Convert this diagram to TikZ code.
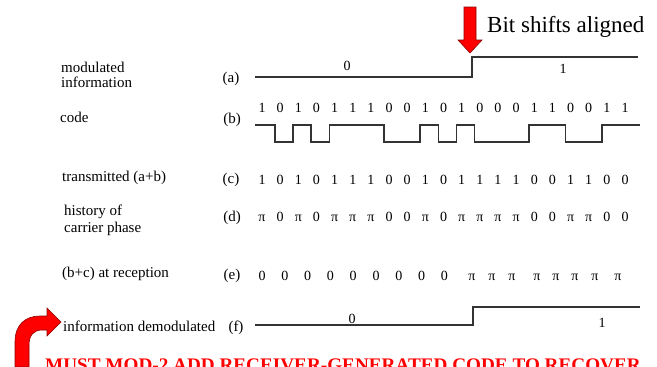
\documentclass[tikz,border=0pt]{standalone}
\usepackage{fontspec}
\setmainfont{Liberation Serif}
\usetikzlibrary{positioning}

\begin{document}
\begin{tikzpicture}[
  x=1pt, y=-1pt,
  lbl/.style={anchor=base west, font=\fontsize{15}{15}\selectfont, inner sep=0pt, align=left},
  tag/.style={anchor=base, font=\fontsize{15}{15}\selectfont, inner sep=0pt},
  bit/.style={anchor=base, font=\fontsize{14}{15}\selectfont, inner sep=0pt},
  wave/.style={line width=1.9pt, draw=black!80, line join=miter},
  pointer/.style={fill=red, draw=red!55!black, line width=.6pt}
]
\clip (0,0) rectangle (657,367);
\fill[white] (0,0) rectangle (657,367);

% Row labels
\node[lbl] (modinfo) at (61,87) {modulated\\information};
\node[lbl] (code) at (60,122) {code};
\node[lbl] (trans) at (62,181) {transmitted (a+b)};
\node[lbl] (hist) at (64,232) {history of\\[2pt]carrier phase};
\node[lbl] (recep) at (62,277) {(b+c) at reception};
\node[lbl] (demod) at (63,331) {information demodulated};
\node[tag] (taga) at (231,82) {(a)};
\node[tag] (tagb) at (232,123) {(b)};
\node[tag] (tagc) at (231,183) {(c)};
\node[tag] (tagd) at (232,221) {(d)};
\node[tag] (tage) at (232,279) {(e)};
\node[tag] (tagf) at (236,331) {(f)};

% (a) modulated information
\draw[wave] (255,77) -- (472,77) -- (472,57) -- (638,57);
\node[bit] (a0) at (347,70) {0};
\node[bit] (a1) at (563,73) {1};

% (b) code bits and waveform
\foreach \v [count=\i from 0] in {1,0,1,0,1,1,1,0,0,1,0,1,0,0,0,1,1,0,0,1,1}
  \node[bit] (b\i) at (262+18.15*\i,112) {\v};
\draw[wave] (255,125) -- (275,125) -- (275,142) -- (293,142) -- (293,125)
  -- (311,125) -- (311,142) -- (329.5,142) -- (329.5,125) -- (384,125)
  -- (384,142) -- (420,142) -- (420,125) -- (438.5,125) -- (438.5,142)
  -- (456.5,142) -- (456.5,125) -- (474.5,125) -- (474.5,142) -- (529,142)
  -- (529,125) -- (565.5,125) -- (565.5,142) -- (602,142) -- (602,125) -- (640,125);

% (c) transmitted
\foreach \v [count=\i from 0] in {1,0,1,0,1,1,1,0,0,1,0,1,1,1,1,0,0,1,1,0,0}
  \node[bit] (c\i) at (262+18.15*\i,184) {\v};

% (d) carrier phase
\foreach \v [count=\i from 0] in {π,0,π,0,π,π,π,0,0,π,0,π,π,π,π,0,0,π,π,0,0}
  \node[bit] (d\i) at (262+18.15*\i,221) {\v};

% (e) at reception
\foreach \i in {0,...,8}
  \node[bit] (e\i) at (262+22.8*\i,280) {0};
\foreach \x [count=\i from 9] in {472,492,512,537,556,575,595,618}
  \node[bit] (e\i) at (\x,280) {π};

% (f) information demodulated
\draw[wave] (255,325) -- (473,325) -- (473,307) -- (640,307);
\node[bit] (f0) at (352,323) {0};
\node[bit] (f1) at (602,327) {1};

% Annotations
\draw[pointer] (464,7) -- (476,7) -- (476,40) -- (482,40) -- (470,53)
  -- (458,40) -- (464,40) -- cycle;
\node[anchor=base west, inner sep=0pt, font=\fontsize{23}{26}\selectfont]
  (shift) at (487,32) {Bit shifts aligned};
\draw[pointer] (15,367) -- (15,342) .. controls (15,325) and (25,316) .. (40,316)
  -- (47,316) -- (47,308) -- (61,322) -- (47,336) -- (47,330) -- (42,330)
  .. controls (34,330) and (29,335) .. (29,345) -- (29,367) -- cycle;
\node[anchor=base west, inner sep=0pt, text=red, font=\bfseries\fontsize{19.2}{21}\selectfont]
  (must) at (45,371) {MUST MOD-2 ADD RECEIVER-GENERATED CODE TO RECOVER};
\end{tikzpicture}
\end{document}
